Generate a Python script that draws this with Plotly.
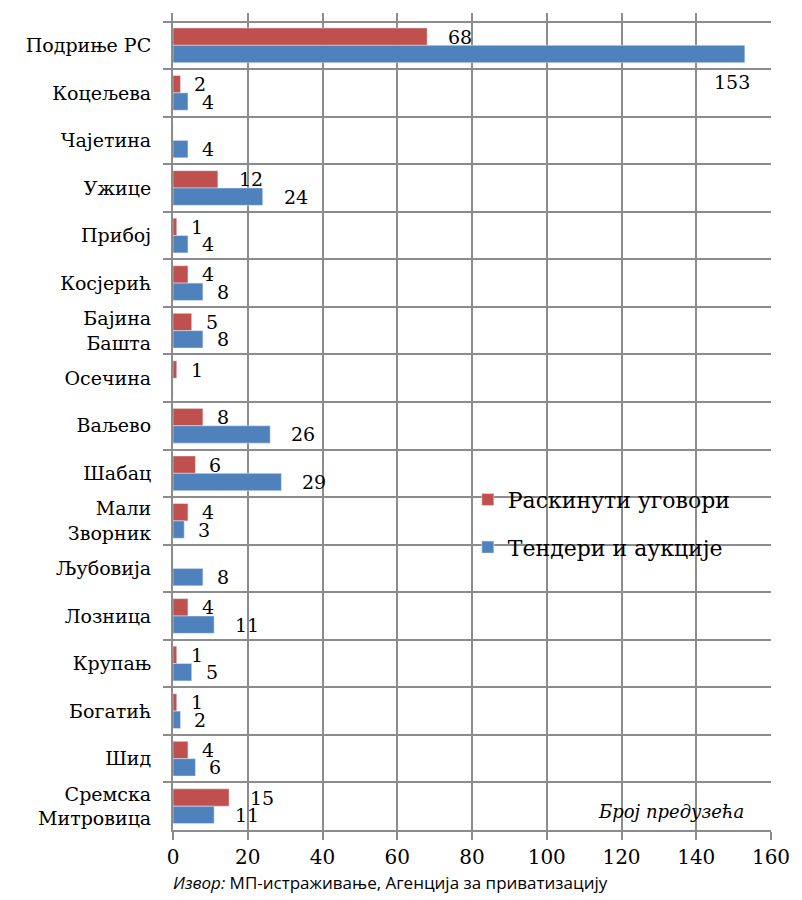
import plotly.graph_objects as go

# Municipalities of the Podrinje region (top to bottom)
categories = ["Подриње РС", "Коцељева", "Чајетина", "Ужице", "Прибој", "Косјерић",
              "Бајина<br>Башта", "Осечина", "Ваљево", "Шабац", "Мали<br>Зворник",
              "Љубовија", "Лозница", "Крупањ", "Богатић", "Шид", "Сремска<br>Митровица"]
# Number of enterprises
raskinuti = [68, 2, 0, 12, 1, 4, 5, 1, 8, 6, 4, 0, 4, 1, 1, 4, 15]
tenderi = [153, 4, 4, 24, 4, 8, 8, 0, 26, 29, 3, 8, 11, 5, 2, 6, 11]
x_ticks = [0, 20, 40, 60, 80, 100, 120, 140, 160]

RED = "#C0504D"
BLUE = "#4F81BD"
GRID = "#8c8c8c"
SERIF = "DejaVu Serif"
XMAX = 160
BARGAP = 0.27

fig = go.Figure()
fig.add_trace(go.Bar(y=categories, x=raskinuti, orientation="h", name="Раскинути уговори",
                     marker=dict(color=RED), legendgroup="a"))
fig.add_trace(go.Bar(y=categories, x=tenderi, orientation="h", name="Тендери и аукције",
                     marker=dict(color=BLUE), legendgroup="b"))

# value labels next to each bar
half = (1 - BARGAP) / 4
label_font = dict(family=SERIF, size=19, color="black")
annotations = []
for series, off in ((raskinuti, -half), (tenderi, half)):
    for i, v in enumerate(series):
        if v == 0:
            continue
        if v > 0.9 * XMAX:
            # no room to the right: put the label under the bar end
            annotations.append(dict(x=v, y=i + off, xref="x", yref="y", text=str(v),
                                    showarrow=False, xanchor="center", yanchor="middle",
                                    xshift=-13, yshift=-28, font=label_font))
        else:
            annotations.append(dict(x=v, y=i + off, xref="x", yref="y", text=str(v),
                                    showarrow=False, xanchor="left", yanchor="middle",
                                    xshift=5 + 7 * len(str(v)), font=label_font))

annotations.append(dict(x=1, y=0, xref="paper", yref="paper", text="<i>Број предузећа</i>",
                        showarrow=False, xanchor="right", yanchor="bottom",
                        xshift=-25, yshift=6,
                        font=dict(family=SERIF, size=18, color="black")))
annotations.append(dict(x=0, y=0, xref="paper", yref="paper",
                        text="<i>Извор:</i> МП-истраживање, Агенција за приватизацију",
                        showarrow=False, xanchor="left", yanchor="middle",
                        xshift=-2, yshift=-52,
                        font=dict(family="Open Sans", size=17, color="black")))

fig.update_layout(
    width=802, height=900,
    margin=dict(l=173, r=22, t=13, b=70),
    paper_bgcolor="white", plot_bgcolor="white",
    barmode="group", bargap=BARGAP, bargroupgap=0,
    showlegend=True,
    legend=dict(x=0.493, y=0.43, xanchor="left", yanchor="top",
                bgcolor="rgba(0,0,0,0)", traceorder="grouped", tracegroupgap=16,
                font=dict(family=SERIF, size=22, color="black"),
                itemwidth=30),
    annotations=annotations,
    xaxis=dict(range=[0, XMAX], tickvals=x_ticks, showgrid=True, gridcolor=GRID,
               gridwidth=2, ticks="outside", ticklen=8, tickcolor=GRID, tickwidth=2,
               showline=True, linecolor=GRID, linewidth=2, zeroline=False,
               tickfont=dict(family=SERIF, size=20, color="black")),
    yaxis=dict(type="category", autorange="reversed", tickson="boundaries",
               showgrid=True, gridcolor=GRID, gridwidth=2,
               ticks="outside", ticklen=8, tickcolor=GRID, tickwidth=2,
               showline=True, linecolor=GRID, linewidth=2,
               ticklabelstandoff=16,
               tickfont=dict(family=SERIF, size=19, color="black")),
)

fig.write_html("out.html")
